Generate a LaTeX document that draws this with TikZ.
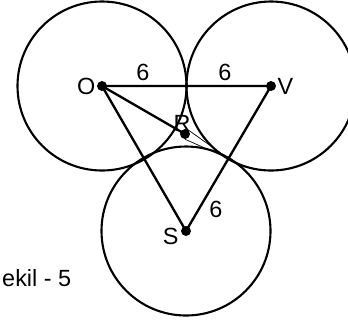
\documentclass[tikz,border=0pt]{standalone}
\usepackage{fontspec}
\setmainfont{Liberation Sans}
\usetikzlibrary{positioning,calc}
\begin{document}
\begin{tikzpicture}[
  x=0.03cm, y=-0.03cm,
  node distance=1pt,
  dot/.style={circle, fill=black, inner sep=0pt, minimum size=8.5pt},
  lbl/.style={inner sep=1pt, font=\fontsize{20}{22}\selectfont},
  seg/.style={line width=2pt},
  ring/.style={line width=1.8pt},
  thin seg/.style={line width=0.6pt}
]
\useasboundingbox (0,0) rectangle (348,323);
\clip (0,0) rectangle (348,323);
\node[dot] (O) at (102,86) {};
\node[dot] (V) at (271,86) {};
\node[dot] (S) at (186,231) {};
\node[dot] (R) at (185,134) {};
\coordinate (T) at ($(V)!0.5!(S)$);
\draw[ring] (O.center) circle[radius=2.535cm];
\draw[ring] (V.center) circle[radius=2.535cm];
\draw[ring] (S.center) circle[radius=2.535cm];
\draw[seg] (O.center) -- (V.center) -- (S.center) -- cycle;
\draw[seg] (O.center) -- (R.center);
\draw[thin seg] (R.north east) -- (T); \draw[thin seg] (R.south) -- (T);
\node[lbl, left=0pt of O] (Olbl) {O};
\node[lbl, right=0pt of V] (Vlbl) {V};
\node[lbl, above left=-2pt and -9pt of R] (Rlbl) {R};
\node[lbl, below left=-7pt and 2pt of S] (Slbl) {S};
\node[lbl] (ov1) at (143,72) {6};
\node[lbl] (ov2) at (225,72) {6};
\node[lbl] (vs) at (216,209) {6};
\node[lbl, anchor=west, inner sep=0pt] (cap) at (2,278) {ekil - 5};
\end{tikzpicture}
\end{document}
